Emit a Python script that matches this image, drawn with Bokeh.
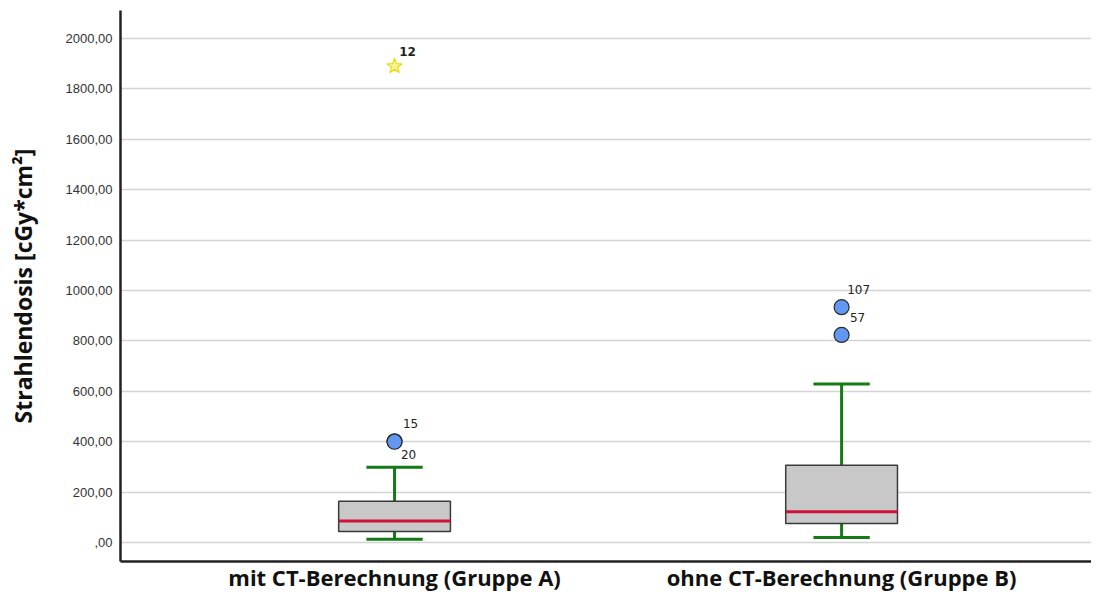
from bokeh.plotting import figure
from bokeh.models import FixedTicker, ColumnDataSource
from bokeh.core.properties import value
from bokeh.embed import file_html
from bokeh.resources import INLINE

# ---------------- data ----------------
groups = ["mit CT-Berechnung (Gruppe A)", "ohne CT-Berechnung (Gruppe B)"]
group_pos = [1, 2]
q1 = [44, 76]
median = [86, 122]
q3 = [164, 307]
whisker_low = [13, 20]
whisker_high = [299, 629]

outlier_group = [1, 1, 2, 2]
outlier_value = [402, 400, 934, 824]
outlier_label = ["15", "20", "107", "57"]

extreme_group = [1]
extreme_value = [1890]
extreme_label = ["12"]

y_ticks = [0, 200, 400, 600, 800, 1000, 1200, 1400, 1600, 1800, 2000]
y_tick_labels = [",00", "200,00", "400,00", "600,00", "800,00", "1000,00",
                 "1200,00", "1400,00", "1600,00", "1800,00", "2000,00"]

# ---------------- style ----------------
BOX_HALF = 0.125
CAP_HALF = 0.063
Y_START, Y_END = -75, 2111
outlier_dx = [16, 14, 17, 16]
outlier_dy = [-18, 13, -18, -17]
extreme_dx = [13]
extreme_dy = [-15]

p = figure(width=1091, height=594, output_backend="svg", toolbar_location=None,
           x_range=(0.387, 2.559), y_range=(Y_START, Y_END),
           min_border_left=120, min_border_top=10, min_border_right=0,
           min_border_bottom=0)
p.outline_line_color = None
p.background_fill_color = "white"
p.border_fill_color = "white"

# grid
p.xgrid.grid_line_color = None
p.ygrid.grid_line_color = "#d4d4d4"
p.ygrid.grid_line_width = 1.5

# y axis
p.yaxis.ticker = FixedTicker(ticks=y_ticks)
p.yaxis.major_label_overrides = {t: l for t, l in zip(y_ticks, y_tick_labels)}
p.yaxis.major_tick_line_color = None
p.yaxis.major_tick_out = 0
p.yaxis.major_tick_in = 0
p.yaxis.minor_tick_line_color = None
p.yaxis.minor_tick_out = 0
p.yaxis.axis_line_width = 2.5
p.yaxis.axis_line_color = "#222222"
p.yaxis.major_label_text_font = "Liberation Sans"
p.yaxis.major_label_text_font_size = "13px"
p.yaxis.major_label_text_color = "#333333"
p.yaxis.major_label_standoff = 8
p.yaxis.axis_label = "Strahlendosis [cGy*cm²]"
p.yaxis.axis_label_text_font = "Open Sans"
p.yaxis.axis_label_text_font_style = "bold"
p.yaxis.axis_label_text_font_size = "23px"
p.yaxis.axis_label_text_color = "#111111"
p.yaxis.axis_label_standoff = 24

# x axis
p.xaxis.ticker = FixedTicker(ticks=group_pos)
p.xaxis.major_label_overrides = {g: n for g, n in zip(group_pos, groups)}
p.xaxis.major_tick_line_color = None
p.xaxis.major_tick_out = 0
p.xaxis.major_tick_in = 0
p.xaxis.minor_tick_line_color = None
p.xaxis.minor_tick_out = 0
p.xaxis.axis_line_width = 2.5
p.xaxis.axis_line_color = "#222222"
p.xaxis.major_label_text_font = "Open Sans"
p.xaxis.major_label_text_font_style = "bold"
p.xaxis.major_label_text_font_size = "22px"
p.xaxis.major_label_text_color = "#111111"
p.xaxis.major_label_standoff = 0

# whiskers (stems)
p.segment(x0=group_pos, y0=q3, x1=group_pos, y1=whisker_high,
          line_color="#157a15", line_width=3)
p.segment(x0=group_pos, y0=q1, x1=group_pos, y1=whisker_low,
          line_color="#157a15", line_width=3)
# caps
p.segment(x0=[g - CAP_HALF for g in group_pos], y0=whisker_high,
          x1=[g + CAP_HALF for g in group_pos], y1=whisker_high,
          line_color="#157a15", line_width=3)
p.segment(x0=[g - CAP_HALF for g in group_pos], y0=whisker_low,
          x1=[g + CAP_HALF for g in group_pos], y1=whisker_low,
          line_color="#157a15", line_width=3)

# boxes
p.vbar(x=group_pos, width=2 * BOX_HALF, bottom=q1, top=q3,
       fill_color="#c8c8c8", line_color="#3a3a3a", line_width=1.5)
# medians
p.segment(x0=[g - BOX_HALF for g in group_pos], y0=median,
          x1=[g + BOX_HALF for g in group_pos], y1=median,
          line_color="#d0103a", line_width=3)

# outliers
out_src = ColumnDataSource(dict(x=outlier_group, y=outlier_value, label=outlier_label,
                                dx=outlier_dx, dy=outlier_dy))
p.scatter(x="x", y="y", source=out_src, size=15, marker="circle",
          fill_color="#6398f2", line_color="#2a2a2a", line_width=1.2)
p.text(x="x", y="y", text="label", source=out_src, x_offset="dx", y_offset="dy",
       text_font=value("DejaVu Sans"), text_font_size="12px", text_color="#222222",
       text_align="center", text_baseline="middle")

# extremes
ext_src = ColumnDataSource(dict(x=extreme_group, y=extreme_value, label=extreme_label,
                                dx=extreme_dx, dy=extreme_dy))
p.scatter(x="x", y="y", source=ext_src, size=16, marker="star",
          fill_color="#f3ea3a", fill_alpha=0.5, line_color="#e8dc00", line_width=1.2)
p.text(x="x", y="y", text="label", source=ext_src, x_offset="dx", y_offset="dy",
       text_font=value("DejaVu Sans"), text_font_size="12px", text_color="#222222",
       text_font_style="bold", text_align="center", text_baseline="middle")

open("out.html", "w").write(file_html(p, INLINE))
